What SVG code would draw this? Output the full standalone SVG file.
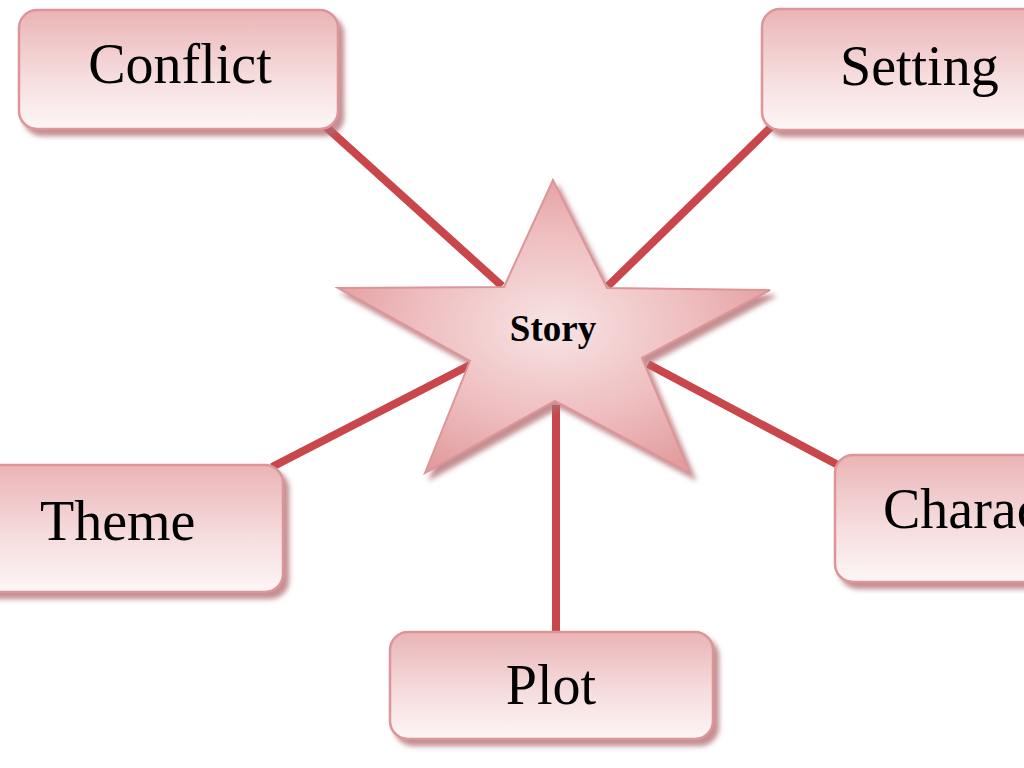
<svg xmlns="http://www.w3.org/2000/svg" width="1024" height="768" viewBox="0 0 1024 768">
<defs>
<linearGradient id="boxGrad" x1="0" y1="0" x2="0" y2="1">
<stop offset="0" stop-color="#eab4b6"/>
<stop offset="0.55" stop-color="#f6dcdd"/>
<stop offset="1" stop-color="#fdf6f6"/>
</linearGradient>
<radialGradient id="starGrad" cx="0.5" cy="0.5" r="0.55">
<stop offset="0" stop-color="#f8e4e4"/>
<stop offset="0.6" stop-color="#eebcbe"/>
<stop offset="1" stop-color="#e29c9f"/>
</radialGradient>
<filter id="shadow" x="-10%" y="-10%" width="125%" height="130%">
<feGaussianBlur in="SourceAlpha" stdDeviation="2.5"/>
<feOffset dx="5" dy="6" result="b"/>
<feFlood flood-color="#b06a6e" flood-opacity="0.75"/>
<feComposite in2="b" operator="in"/>
<feMerge><feMergeNode/><feMergeNode in="SourceGraphic"/></feMerge>
</filter>
</defs>
<style>
.box{fill:url(#boxGrad);stroke:#dc9598;stroke-width:2.5;filter:url(#shadow)}
.lbl{font-family:"Liberation Serif","Times New Roman",serif;font-size:56px;fill:#000}
.conn{stroke:#c9474b;stroke-width:8;fill:none}
</style>
<rect width="1024" height="768" fill="#ffffff"/>
<g id="connectors">
<line class="conn" x1="325" y1="126" x2="502" y2="286"/>
<line class="conn" x1="772" y1="126" x2="608" y2="286"/>
<line class="conn" x1="272" y1="467" x2="472" y2="364"/>
<line class="conn" x1="838" y1="465" x2="648" y2="364"/>
<line class="conn" x1="556" y1="405" x2="556" y2="634"/>
</g>
<g id="story">
<polygon points="553,180 504,287 338,288 470,361 425,473 555,401 690,473 642,358 770,290 607,288" fill="url(#starGrad)" stroke="#dc9598" stroke-width="2" filter="url(#shadow)"/>
<text x="553" y="341" text-anchor="middle" font-family="'Liberation Serif','Times New Roman',serif" font-size="37" font-weight="bold">Story</text>
</g>
<g id="conflict">
<rect class="box" x="19" y="10" width="319" height="119" rx="18"/>
<text class="lbl" x="180" y="83" text-anchor="middle">Conflict</text>
</g>
<g id="setting">
<rect class="box" x="762" y="9" width="300" height="121" rx="18"/>
<text class="lbl" x="840" y="85">Setting</text>
</g>
<g id="theme">
<rect class="box" x="-30" y="465" width="313" height="127" rx="18"/>
<text class="lbl" x="40" y="540">Theme</text>
</g>
<g id="characters">
<rect class="box" x="835" y="455" width="230" height="127" rx="18"/>
<text class="lbl" x="883" y="528">Characters</text>
</g>
<g id="plot">
<rect class="box" x="390" y="632" width="323" height="107" rx="18"/>
<text class="lbl" x="551" y="704" text-anchor="middle">Plot</text>
</g>
</svg>
